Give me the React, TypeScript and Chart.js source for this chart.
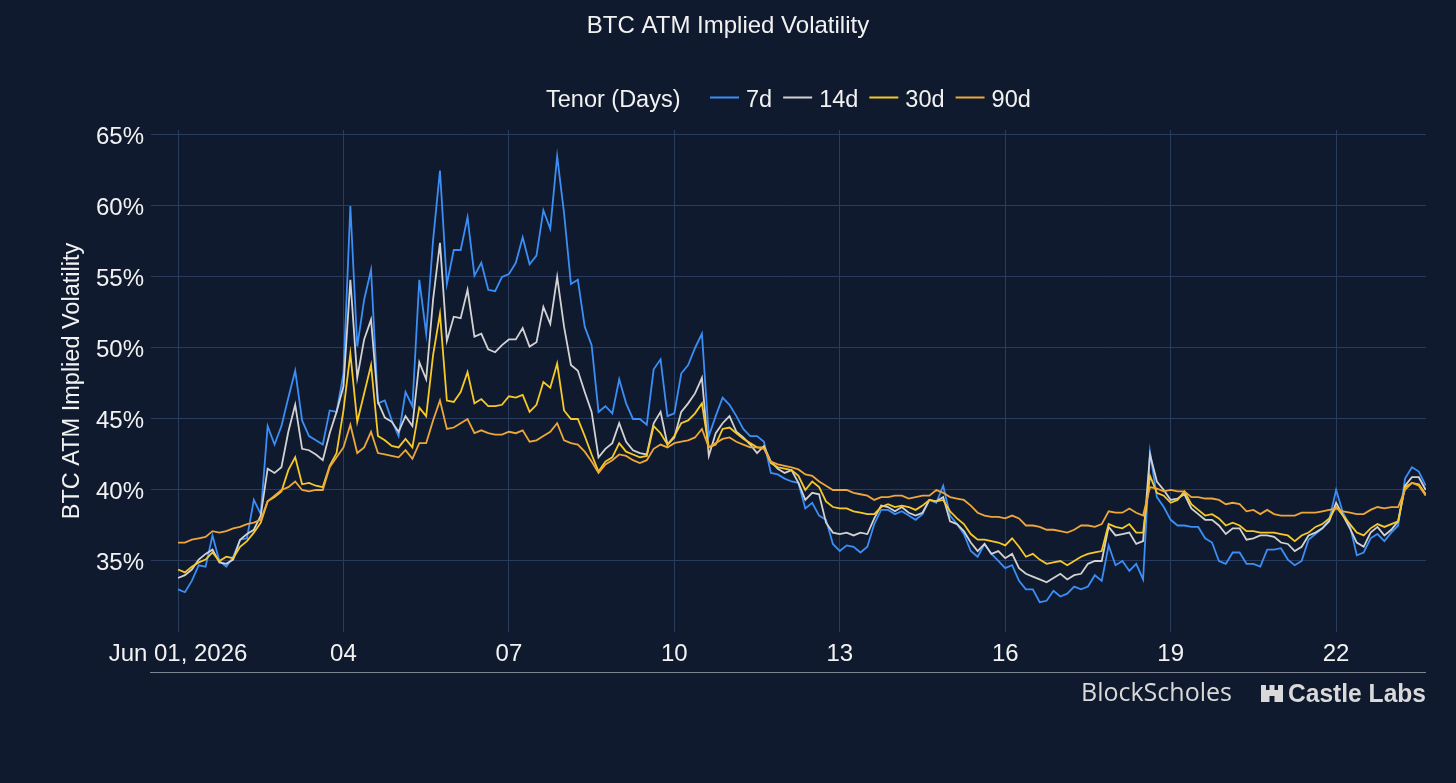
import React, { useEffect, useRef } from "react";
import { Chart, registerables } from "chart.js";

Chart.register(...registerables);

// ---------- DATA (3-hourly samples from Jun 01, 2026 00:00) ----------
const STEP_HOURS = 3;

const IV_7D = [
  33.0, 32.8, 33.6, 34.7, 34.6, 36.8, 35.0, 34.6,
  35.3, 36.5, 36.6, 39.3, 38.3, 44.5, 43.2, 44.5,
  46.5, 48.4, 44.9, 43.8, 43.5, 43.2, 45.6, 45.5,
  48.2, 60.0, 50.1, 53.4, 55.5, 46.1, 46.3, 44.9,
  43.8, 46.9, 45.9, 54.8, 51.0, 57.6, 62.5, 54.5,
  56.9, 56.9, 59.2, 55.1, 56.0, 54.1, 54.0, 55.0,
  55.2, 56.0, 57.8, 55.9, 56.5, 59.7, 58.4, 63.5,
  59.5, 54.5, 54.8, 51.5, 50.2, 45.5, 45.9, 45.4,
  47.8, 46.1, 45.0, 45.0, 44.6, 48.5, 49.2, 45.2,
  45.4, 48.2, 48.8, 50.0, 51.0, 43.8, 45.2, 46.5,
  46.0, 45.2, 44.3, 43.8, 43.8, 43.4, 41.2, 41.1,
  40.8, 40.6, 40.5, 38.7, 39.1, 38.2, 37.9, 36.2,
  35.7, 36.1, 36.0, 35.6, 36.0, 37.6, 38.6, 38.6,
  38.3, 38.5, 38.2, 37.9, 38.3, 39.3, 39.1, 40.3,
  38.2, 37.6, 36.9, 35.7, 35.3, 36.2, 35.5, 35.0,
  34.5, 34.7, 33.6, 33.0, 33.0, 32.1, 32.2, 32.9,
  32.5, 32.7, 33.2, 33.0, 33.2, 34.0, 33.6, 36.1,
  34.7, 35.0, 34.3, 34.8, 33.7, 42.7, 39.5, 38.8,
  37.9, 37.5, 37.5, 37.4, 37.4, 36.6, 36.3, 35.0,
  34.8, 35.6, 35.6, 34.8, 34.8, 34.6, 35.8, 35.8,
  35.9, 35.1, 34.7, 35.0, 36.5, 36.9, 37.3, 37.9,
  40.0, 38.4, 37.5, 35.4, 35.6, 36.6, 36.9, 36.4,
  37.0, 37.5, 40.8, 41.6, 41.3, 40.3,
];

const IV_14D = [
  33.8, 34.0, 34.4, 35.1, 35.5, 35.8, 34.9, 34.8,
  35.1, 36.5, 36.9, 37.2, 38.2, 41.5, 41.2, 41.6,
  44.1, 46.0, 42.9, 42.8, 42.5, 42.1, 44.0, 45.5,
  47.3, 54.8, 47.9, 50.6, 52.0, 46.2, 45.1, 44.8,
  44.1, 45.2, 44.5, 49.0, 47.8, 53.4, 57.4, 50.5,
  52.2, 52.1, 54.1, 50.8, 51.0, 49.9, 49.7, 50.2,
  50.6, 50.6, 51.4, 50.1, 50.4, 52.9, 51.7, 55.0,
  51.5, 48.8, 48.4, 46.9, 45.5, 42.3, 42.9, 43.3,
  44.7, 43.4, 42.8, 42.6, 42.5, 44.7, 45.5, 43.2,
  43.7, 45.5, 46.1, 46.8, 47.9, 42.4, 44.0, 44.7,
  45.2, 44.1, 43.7, 43.2, 42.6, 43.1, 42.0, 41.5,
  41.2, 41.4, 40.5, 39.3, 39.8, 39.7, 37.7, 37.0,
  36.9, 37.0, 36.8, 37.0, 36.9, 38.0, 38.9, 38.8,
  38.5, 38.8, 38.4, 38.2, 38.4, 39.3, 39.2, 39.5,
  37.8, 37.6, 37.1, 36.3, 35.7, 36.2, 35.5, 35.7,
  35.2, 35.5, 34.5, 34.1, 33.9, 33.7, 33.5, 33.8,
  34.1, 33.7, 34.0, 34.1, 34.8, 35.0, 35.0, 37.4,
  36.8, 36.9, 37.0, 36.2, 36.4, 42.5, 40.6, 40.0,
  39.3, 39.4, 39.7, 38.7, 38.3, 37.9, 37.9, 37.5,
  36.9, 37.3, 37.3, 36.5, 36.6, 36.8, 36.8, 36.7,
  36.3, 36.2, 35.7, 36.0, 36.8, 37.0, 37.3, 37.8,
  39.1, 38.2, 37.3, 36.3, 36.0, 37.0, 37.4, 36.8,
  37.2, 37.8, 40.3, 40.9, 40.9, 40.0,
];

const IV_30D = [
  34.4, 34.2, 34.6, 34.9, 35.1, 35.6, 35.0, 35.3,
  35.2, 36.0, 36.4, 37.0, 37.7, 39.2, 39.5, 39.9,
  41.4, 42.3, 40.4, 40.5, 40.3, 40.2, 41.7, 42.6,
  45.6, 49.6, 44.8, 46.8, 48.8, 43.8, 43.5, 43.1,
  43.0, 43.6, 43.0, 45.8, 45.2, 49.5, 52.4, 46.3,
  46.2, 46.9, 48.3, 46.1, 46.4, 45.9, 45.9, 46.0,
  46.6, 46.5, 46.7, 45.5, 46.0, 47.6, 47.2, 48.9,
  45.6, 45.0, 45.0, 43.8, 42.5, 41.3, 42.0, 42.3,
  43.3, 42.7, 42.5, 42.3, 42.4, 44.5, 44.0, 43.2,
  43.8, 44.7, 44.9, 45.4, 46.1, 43.0, 43.2, 44.3,
  44.4, 44.0, 43.6, 43.3, 43.0, 43.0, 41.9, 41.6,
  41.5, 41.4, 41.0, 40.0, 40.6, 40.2, 39.2, 38.8,
  38.7, 38.7, 38.5, 38.4, 38.3, 38.3, 38.8, 39.0,
  38.8, 38.9, 38.8, 38.6, 38.9, 39.3, 39.2, 39.3,
  38.5, 38.0, 37.6, 36.9, 36.5, 36.5, 36.4, 36.3,
  36.1, 36.6, 36.0, 35.3, 35.5, 35.1, 34.8, 34.9,
  35.0, 34.7, 35.0, 35.3, 35.5, 35.6, 35.7, 37.6,
  37.4, 37.3, 37.6, 37.0, 37.0, 41.0, 39.8, 39.6,
  39.1, 39.3, 39.9, 39.0, 38.6, 38.2, 38.3, 38.0,
  37.5, 37.7, 37.5, 37.1, 37.1, 37.0, 37.0, 37.0,
  36.9, 36.8, 36.4, 36.8, 37.0, 37.4, 37.6, 38.0,
  38.8, 38.2, 37.6, 37.0, 36.8, 37.3, 37.6, 37.4,
  37.6, 37.8, 40.2, 40.5, 40.4, 39.7,
];

const IV_90D = [
  36.3, 36.3, 36.5, 36.6, 36.7, 37.1, 37.0, 37.1,
  37.3, 37.4, 37.6, 37.7, 37.9, 39.2, 39.6, 40.0,
  40.2, 40.6, 40.0, 39.9, 40.0, 40.0, 41.6, 42.3,
  43.0, 44.6, 42.6, 43.0, 44.1, 42.6, 42.5, 42.4,
  42.3, 42.8, 42.2, 43.3, 43.3, 44.9, 46.3, 44.3,
  44.4, 44.7, 45.0, 44.0, 44.2, 44.0, 43.9, 43.9,
  44.1, 44.0, 44.2, 43.4, 43.5, 43.8, 44.1, 44.7,
  43.5, 43.3, 43.2, 42.7, 42.0, 41.2, 41.8, 42.1,
  42.5, 42.4, 42.1, 41.9, 42.1, 42.9, 43.2, 43.0,
  43.3, 43.4, 43.5, 43.7, 44.3, 43.0, 43.3, 43.6,
  43.7, 43.4, 43.2, 43.0, 43.0, 42.9, 42.0, 41.8,
  41.7, 41.6, 41.45, 41.1, 41.0, 40.6, 40.3, 40.0,
  40.0, 40.0, 39.8, 39.7, 39.6, 39.3, 39.5, 39.5,
  39.6, 39.6, 39.4, 39.5, 39.6, 39.6, 40.0, 39.8,
  39.5, 39.4, 39.3, 38.9, 38.4, 38.2, 38.1, 38.1,
  38.0, 38.2, 38.0, 37.5, 37.5, 37.4, 37.2, 37.2,
  37.1, 37.0, 37.2, 37.5, 37.5, 37.4, 37.6, 38.5,
  38.4, 38.4, 38.7, 38.4, 38.2, 40.2, 40.1, 39.9,
  40.0, 39.9, 39.9, 39.5, 39.5, 39.4, 39.4, 39.3,
  39.0, 39.1, 39.0, 38.5, 38.6, 38.3, 38.6, 38.3,
  38.2, 38.2, 38.2, 38.4, 38.4, 38.4, 38.5, 38.6,
  38.7, 38.5, 38.4, 38.3, 38.3, 38.6, 38.8, 38.7,
  38.8, 38.8, 40.0, 40.5, 40.3, 39.6,
];

const HOURS = IV_7D.map((_, i) => i * STEP_HOURS);

const X_TICK_DAYS = [0, 3, 6, 9, 12, 15, 18, 21];
const X_TICK_LABELS = ["Jun 01, 2026", "04", "07", "10", "13", "16", "19", "22"];
const Y_TICKS = [35, 40, 45, 50, 55, 60, 65];

const SERIES_LABELS = ["7d", "14d", "30d", "90d"];
const SERIES_VALUES = [IV_7D, IV_14D, IV_30D, IV_90D];
const SERIES_COLORS = ["#3b8ef5", "#d2d2d2", "#f7c928", "#eda63a"];

const TITLE = "BTC ATM Implied Volatility";
const Y_TITLE = "BTC ATM Implied Volatility";
const LEGEND_TITLE = "Tenor (Days)";

// ---------- STYLE ----------
const W = 1456;
const H = 783;
const BG = "#0f1a2e";
const GRID = "#2a3c5e";
const TEXT = "#f2f2f2";
const FONT = '"Liberation Sans", Arial, Helvetica, sans-serif';

const overlayPlugin = {
  id: "overlay",
  afterDraw(chart: any) {
    const ctx: CanvasRenderingContext2D = chart.ctx;
    ctx.save();
    ctx.fillStyle = TEXT;
    ctx.textBaseline = "alphabetic";

    // title
    ctx.font = `24px ${FONT}`;
    ctx.textAlign = "center";
    ctx.fillText(TITLE, W / 2, 33);

    // y-axis title
    ctx.save();
    ctx.translate(79, (chart.chartArea.top + chart.chartArea.bottom) / 2);
    ctx.rotate(-Math.PI / 2);
    ctx.font = `23.5px ${FONT}`;
    ctx.fillText(Y_TITLE, 0, 0);
    ctx.restore();

    // legend
    ctx.font = `23.5px ${FONT}`;
    ctx.textAlign = "left";
    const ly = 97.5;
    const lb = 106.5;
    ctx.fillText(LEGEND_TITLE, 546, lb);
    let x = 710;
    SERIES_LABELS.forEach((lab, i) => {
      ctx.strokeStyle = SERIES_COLORS[i];
      ctx.lineWidth = 2;
      ctx.beginPath();
      ctx.moveTo(x, ly);
      ctx.lineTo(x + 29, ly);
      ctx.stroke();
      ctx.fillStyle = TEXT;
      ctx.fillText(lab, x + 36, lb);
      x = x + 36 + ctx.measureText(lab).width + 11;
    });

    // bottom rule
    ctx.strokeStyle = "#7d8593";
    ctx.lineWidth = 1;
    ctx.beginPath();
    ctx.moveTo(150, 672.5);
    ctx.lineTo(chart.chartArea.right, 672.5);
    ctx.stroke();

    // logos
    ctx.fillStyle = "#d9d9d9";
    ctx.font = `25px "Open Sans", ${FONT}`;
    ctx.textAlign = "left";
    ctx.fillText("BlockScholes", 1081, 701, 154);

    // castle icon
    const cx = 1261;
    ctx.fillRect(cx, 690, 22, 12);
    ctx.fillRect(cx, 685, 5, 6);
    ctx.fillRect(cx + 8.5, 685, 5, 6);
    ctx.fillRect(cx + 17, 685, 5, 6);
    ctx.fillStyle = BG;
    ctx.fillRect(cx + 8.5, 696, 5, 6);
    ctx.fillStyle = "#d9d9d9";

    ctx.font = `bold 25px ${FONT}`;
    ctx.fillText("Castle Labs", 1288, 701.5, 138);
    ctx.restore();
  },
};

export default function App() {
  const canvasRef = useRef<HTMLCanvasElement | null>(null);

  useEffect(() => {
    document.body.style.margin = "0";
    document.body.style.background = BG;
    const canvas = canvasRef.current;
    if (!canvas) return;

    const datasets = SERIES_LABELS.map((lab, i) => ({
      label: lab,
      data: SERIES_VALUES[i].map((v, j) => ({ x: HOURS[j] / 24, y: v })),
      borderColor: SERIES_COLORS[i],
      backgroundColor: SERIES_COLORS[i],
      borderWidth: 1.8,
      pointRadius: 0,
      tension: 0,
      fill: false,
      order: SERIES_LABELS.length - i,
    }));

    const chart = new Chart(canvas, {
      type: "line",
      data: { datasets },
      options: {
        animation: false,
        responsive: false,
        maintainAspectRatio: false,
        layout: { padding: { left: 0, right: 30, top: 130, bottom: 0 } },
        plugins: {
          legend: { display: false },
          title: { display: false },
          tooltip: { enabled: false },
        },
        scales: {
          x: {
            type: "linear",
            min: -0.49,
            max: 22.63,
            afterBuildTicks: (s: any) => {
              s.ticks = X_TICK_DAYS.map((v) => ({ value: v }));
            },
            afterFit: (s: any) => {
              s.height = 151;
            },
            grid: { color: GRID, lineWidth: 1, drawTicks: false },
            border: { display: false },
            ticks: {
              color: TEXT,
              font: { size: 24, family: FONT },
              padding: 8,
              maxRotation: 0,
              autoSkip: false,
              callback: (v: any) => {
                const k = X_TICK_DAYS.indexOf(Number(v));
                return k >= 0 ? X_TICK_LABELS[k] : "";
              },
            },
          },
          y: {
            type: "linear",
            min: 30.0,
            max: 65.35,
            afterBuildTicks: (s: any) => {
              s.ticks = Y_TICKS.map((v) => ({ value: v }));
            },
            afterFit: (s: any) => {
              s.width = 151;
            },
            grid: { color: GRID, lineWidth: 1, drawTicks: false },
            border: { display: false },
            ticks: {
              color: TEXT,
              font: { size: 24, family: FONT },
              padding: 7,
              labelOffset: 2,
              callback: (v: any) => `${v}%`,
            },
          },
        },
      },
      plugins: [overlayPlugin],
    });

    return () => chart.destroy();
  }, []);

  return (
    <div style={{ width: W, height: H, background: BG, position: "relative", overflow: "hidden" }}>
      <canvas ref={canvasRef} width={W} height={H} style={{ display: "block", width: W, height: H }} />
    </div>
  );
}
